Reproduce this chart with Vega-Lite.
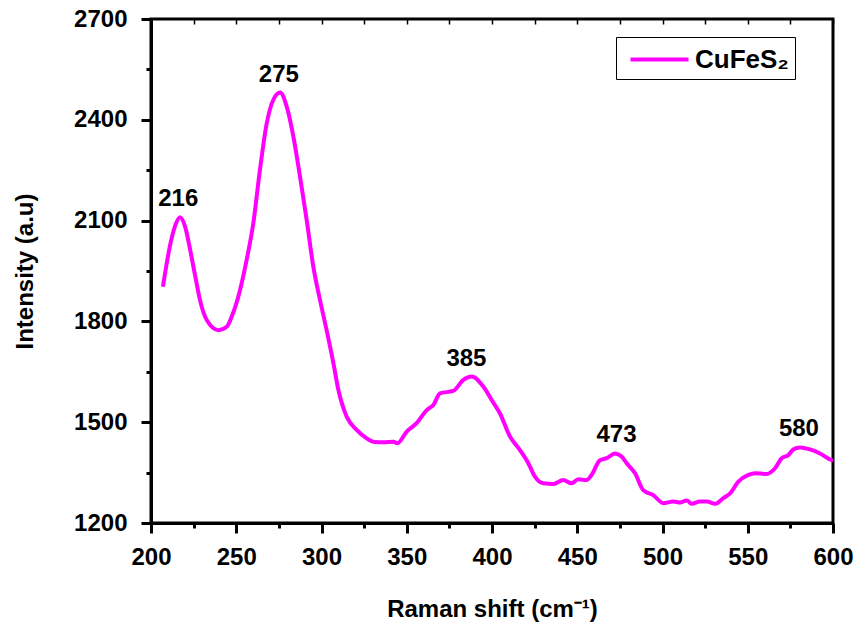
{
  "$schema": "https://vega.github.io/schema/vega-lite/v6.json",
  "width": 682,
  "height": 504,
  "autosize": "none",
  "padding": {"left": 151, "top": 19, "right": 24, "bottom": 103},
  "background": "white",
  "config": {
    "font": "Liberation Sans",
    "view": {"stroke": "black", "strokeWidth": 3},
    "axis": {
      "grid": false,
      "domainColor": "black",
      "domainWidth": 3,
      "tickColor": "black",
      "tickWidth": 3,
      "labelFont": "Liberation Sans",
      "labelFontSize": 24,
      "labelFontWeight": "bold",
      "labelColor": "black",
      "labelFlush": false,
      "labelOverlap": false,
      "titleFont": "Liberation Sans",
      "titleFontSize": 24,
      "titleFontWeight": "bold",
      "titleColor": "black"
    }
  },
  "layer": [
    {
      "data": {
        "values": [
          {"shift": 207, "intensity": 1903},
          {"shift": 211, "intensity": 2022},
          {"shift": 214, "intensity": 2082},
          {"shift": 217, "intensity": 2110},
          {"shift": 220, "intensity": 2082},
          {"shift": 223, "intensity": 2012},
          {"shift": 226, "intensity": 1933},
          {"shift": 228.7, "intensity": 1864},
          {"shift": 232.7, "intensity": 1804},
          {"shift": 239.5, "intensity": 1774},
          {"shift": 244.4, "intensity": 1784},
          {"shift": 247.3, "intensity": 1814},
          {"shift": 252.2, "intensity": 1893},
          {"shift": 256.1, "intensity": 1983},
          {"shift": 260, "intensity": 2092},
          {"shift": 263.9, "intensity": 2251},
          {"shift": 267.9, "intensity": 2390},
          {"shift": 271.7, "intensity": 2459},
          {"shift": 275.7, "intensity": 2481},
          {"shift": 279.6, "intensity": 2439},
          {"shift": 283.5, "intensity": 2350},
          {"shift": 287.4, "intensity": 2231},
          {"shift": 291.3, "intensity": 2102},
          {"shift": 295.2, "intensity": 1963},
          {"shift": 299.1, "intensity": 1864},
          {"shift": 303, "intensity": 1774},
          {"shift": 307, "intensity": 1675},
          {"shift": 309.9, "intensity": 1596},
          {"shift": 314.8, "intensity": 1516},
          {"shift": 320.6, "intensity": 1477},
          {"shift": 326.5, "intensity": 1452},
          {"shift": 330.4, "intensity": 1442},
          {"shift": 336.3, "intensity": 1440},
          {"shift": 342.2, "intensity": 1442},
          {"shift": 344.5, "intensity": 1437},
          {"shift": 350, "intensity": 1472},
          {"shift": 355.8, "intensity": 1497},
          {"shift": 361.7, "intensity": 1536},
          {"shift": 365.6, "intensity": 1551},
          {"shift": 369.5, "intensity": 1586},
          {"shift": 377.3, "intensity": 1593},
          {"shift": 383.2, "intensity": 1626},
          {"shift": 388.1, "intensity": 1636},
          {"shift": 394.9, "intensity": 1606},
          {"shift": 399.8, "intensity": 1566},
          {"shift": 404.7, "intensity": 1526},
          {"shift": 410.6, "intensity": 1457},
          {"shift": 416.4, "intensity": 1417},
          {"shift": 421.3, "intensity": 1378},
          {"shift": 425.2, "intensity": 1338},
          {"shift": 430.1, "intensity": 1318},
          {"shift": 436, "intensity": 1316},
          {"shift": 441.8, "intensity": 1328},
          {"shift": 446.7, "intensity": 1318},
          {"shift": 450.6, "intensity": 1330},
          {"shift": 455.5, "intensity": 1328},
          {"shift": 458.4, "intensity": 1343},
          {"shift": 463.3, "intensity": 1387},
          {"shift": 467.3, "intensity": 1393},
          {"shift": 472.1, "intensity": 1407},
          {"shift": 476, "intensity": 1398},
          {"shift": 479, "intensity": 1378},
          {"shift": 483.9, "intensity": 1348},
          {"shift": 488.7, "intensity": 1298},
          {"shift": 494.6, "intensity": 1283},
          {"shift": 500.5, "intensity": 1259},
          {"shift": 506.3, "intensity": 1264},
          {"shift": 510.3, "intensity": 1261},
          {"shift": 514.2, "intensity": 1267},
          {"shift": 517.1, "intensity": 1257},
          {"shift": 522, "intensity": 1264},
          {"shift": 526, "intensity": 1264},
          {"shift": 530.8, "intensity": 1257},
          {"shift": 535.7, "intensity": 1274},
          {"shift": 539.6, "intensity": 1288},
          {"shift": 544.5, "intensity": 1323},
          {"shift": 550.4, "intensity": 1343},
          {"shift": 554.3, "intensity": 1348},
          {"shift": 561.1, "intensity": 1346},
          {"shift": 566, "intensity": 1363},
          {"shift": 569.9, "intensity": 1393},
          {"shift": 573.8, "intensity": 1402},
          {"shift": 576.7, "intensity": 1419},
          {"shift": 580.6, "intensity": 1425},
          {"shift": 586.5, "intensity": 1419},
          {"shift": 592.4, "intensity": 1407},
          {"shift": 598.2, "intensity": 1389},
          {"shift": 600, "intensity": 1385}
        ]
      },
      "mark": {"type": "line", "strokeWidth": 4, "interpolate": "monotone", "clip": true},
      "encoding": {
        "x": {
          "field": "shift",
          "type": "quantitative",
          "scale": {"domain": [200, 600], "nice": false, "zero": false},
          "axis": {
            "orient": "bottom",
            "title": "Raman shift (cm⁻¹)",
            "values": [200, 250, 300, 350, 400, 450, 500, 550, 600],
            "format": "d",
            "tickSize": 10,
            "labelPadding": 12,
            "titlePadding": 28
          }
        },
        "y": {
          "field": "intensity",
          "type": "quantitative",
          "scale": {"domain": [1200, 2700], "nice": false, "zero": false},
          "axis": {
            "orient": "left",
            "title": "Intensity (a.u)",
            "values": [1200, 1500, 1800, 2100, 2400, 2700],
            "format": "d",
            "tickSize": 10,
            "labelPadding": 14,
            "titlePadding": 36
          }
        },
        "color": {
          "datum": "CuFeS₂",
          "type": "nominal",
          "scale": {"range": ["#ff00ff"]},
          "legend": {
            "orient": "none",
            "legendX": 465,
            "legendY": 18,
            "title": null,
            "symbolType": "M-0.55,0H3.45",
            "symbolSize": 841,
            "symbolStrokeWidth": 4,
            "symbolStrokeColor": "#ff00ff",
            "symbolFillColor": "transparent",
            "labelFont": "Liberation Sans",
            "labelFontSize": 26,
            "labelFontWeight": "bold",
            "labelColor": "black",
            "labelOffset": 40,
            "strokeColor": "black",
            "fillColor": "white",
            "padding": 6
          }
        }
      }
    },
    {
      "data": {
        "values": [
          {"peak": 216, "intensity": 2110},
          {"peak": 275, "intensity": 2481},
          {"peak": 385, "intensity": 1636},
          {"peak": 473, "intensity": 1407},
          {"peak": 580, "intensity": 1425}
        ]
      },
      "mark": {
        "type": "text",
        "font": "Liberation Sans",
        "fontSize": 24,
        "fontWeight": "bold",
        "color": "black",
        "baseline": "alphabetic",
        "dy": -11
      },
      "encoding": {
        "x": {
          "field": "peak",
          "type": "quantitative",
          "axis": {
            "orient": "bottom",
            "title": null,
            "labels": false,
            "domain": false,
            "values": [225, 275, 325, 375, 425, 475, 525, 575],
            "tickSize": 5
          }
        },
        "y": {
          "field": "intensity",
          "type": "quantitative",
          "axis": {
            "orient": "left",
            "title": null,
            "labels": false,
            "domain": false,
            "values": [1350, 1650, 1950, 2250, 2550],
            "tickSize": 5
          }
        },
        "text": {"field": "peak", "type": "quantitative", "format": "d"}
      }
    },
    {
      "data": {
        "values": [
          {"peak": 216},
          {"peak": 275},
          {"peak": 385},
          {"peak": 473},
          {"peak": 580}
        ]
      },
      "mark": {"type": "text", "text": ""},
      "encoding": {
        "x": {
          "field": "peak",
          "type": "quantitative",
          "axis": {
            "orient": "top",
            "title": null,
            "labels": false,
            "domain": false,
            "values": [200, 225, 250, 275, 300, 325, 350, 375, 400, 425, 450, 475, 500, 525, 550, 575, 600],
            "tickSize": -5,
            "tickWidth": 1.5
          }
        }
      }
    }
  ],
  "resolve": {"axis": {"x": "independent", "y": "independent"}}
}
